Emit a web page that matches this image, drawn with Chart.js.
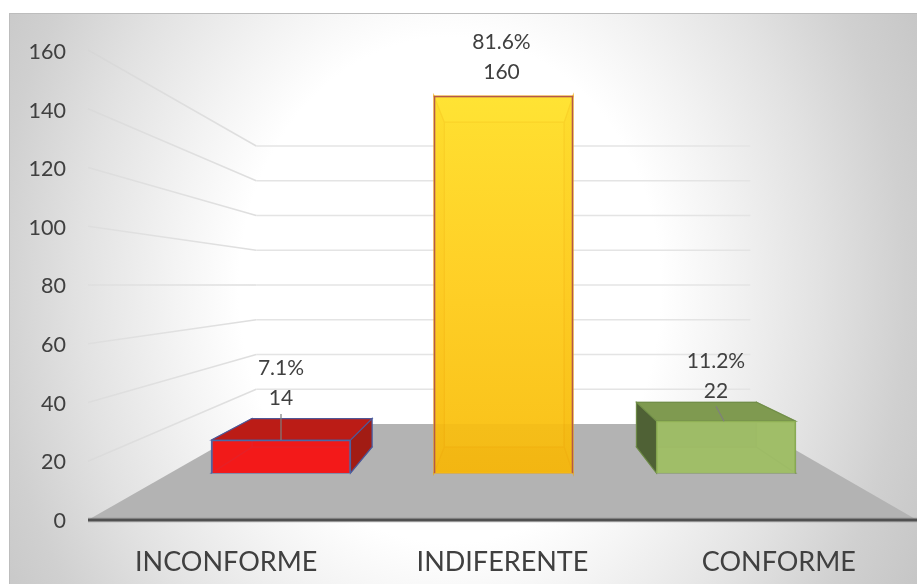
<!DOCTYPE html>
<html><head><meta charset="utf-8">
<script src="https://cdn.jsdelivr.net/npm/chart.js@4"></script>
<style>html,body{margin:0;padding:0;background:#fff}canvas{display:block}</style>
</head><body><canvas id="c" width="917" height="584"></canvas>
<script>
const categories = ['INCONFORME', 'INDIFERENTE', 'CONFORME'];
const counts = [14, 160, 22];
const percents = ['7.1%', '81.6%', '11.2%'];
const tickValues = [0, 20, 40, 60, 80, 100, 120, 140, 160];

const FONT = 'Lato, Carlito, sans-serif';
const TEXT = '#404040';
const plotTop = 52, plotBottom = 521, plotLeft = 88, plotRight = 917;
const barW = 139, rearW = 120;
const VMAX = 160;

// Perspective planes, expressed as hidden scales: pixel of value 0 and value 160.
function yRange(p0, pMax) {
  const k = (p0 - pMax) / VMAX;
  return { min: -(plotBottom - p0) / k, max: VMAX + (pMax - plotTop) / k };
}
function xRange(p0, p2) {
  const k = (p2 - p0) / 2;
  return { min: -(p0 - plotLeft) / k, max: 2 + (plotRight - p2) / k };
}
const hidden = (r, pos) => ({ type: 'linear', display: false, offset: false, position: pos, min: r.min, max: r.max, grid: { display: false } });

const faces = [
  { bottom:'#d81c18', back:'#bb1c16', left:'#c31f17', right:'#a21c14', top:'#bb1c16', edge:'rgba(72,92,160,.85)' },
  { bottom:'#f9c21e', back:'#fdd42e', left:'#f9c822', right:'#f9c822', top:'#ffe03a', edge:'#eca50e', shade:'rgba(205,135,0,.10)' },
  { bottom:'#8aa858', back:'#7f9a50', left:'#4f6135', right:'#8fae5a', top:'#7f9a50', edge:'rgba(110,140,70,.8)' }
];
const frontEdge = ['#4a6aa8', '#b4584a', '#8fb055'];
const labelDx = [0, -2, -10];
const labelDy = [-42, -24, -30];
const leaders = [[0, -26, 0, 0], null, [-10, -15, -2, 0]];

function quad(ctx, pts, fill, stroke) {
  ctx.beginPath();
  pts.forEach((p, i) => i ? ctx.lineTo(p[0], p[1]) : ctx.moveTo(p[0], p[1]));
  ctx.closePath();
  ctx.fillStyle = fill; ctx.fill();
  if (stroke) { ctx.strokeStyle = stroke; ctx.lineWidth = 1.2; ctx.stroke(); }
}

const scene = {
  id: 'scene',
  beforeDraw(chart) {
    const { ctx, scales } = chart;
    const x0 = 9, y0 = 13, w = 917 - x0, h = 584 - y0;
    ctx.save();
    ctx.beginPath(); ctx.rect(x0, y0, w, h); ctx.clip();
    ctx.translate(450, 290); ctx.scale(1, 1.2);
    const g = ctx.createRadialGradient(0, 0, 0, 0, 0, 570);
    g.addColorStop(0, '#ffffff');
    g.addColorStop(0.37, '#ffffff');
    g.addColorStop(0.48, '#f4f4f4');
    g.addColorStop(0.65, '#e2e2e2');
    g.addColorStop(0.80, '#d0d0d0');
    g.addColorStop(1, '#c0c0c0');
    ctx.fillStyle = g; ctx.fillRect(-600, -400, 1200, 800);
    ctx.restore();
    ctx.fillStyle = '#bdbdbd';
    ctx.fillRect(x0, y0, w, 1); ctx.fillRect(x0, y0, 1, h);

    const wallL = scales.xRear.getPixelForValue(-0.29), wallR = scales.xRear.getPixelForValue(2.28);
    // floor
    const yb = scales.yWall.getPixelForValue(0), yf = scales.ySide.getPixelForValue(0);
    quad(ctx, [[plotLeft, yf], [wallL, yb], [wallR, yb], [plotRight, yf]], '#b3b3b3');
    // grid on the side wall and back wall
    ctx.lineWidth = 1.5;
    tickValues.slice(1).forEach(v => {
      const yL = scales.ySide.getPixelForValue(v), yW = scales.yWall.getPixelForValue(v);
      const gr = ctx.createLinearGradient(plotLeft, 0, wallL, 0);
      gr.addColorStop(0, 'rgba(205,205,205,.25)');
      gr.addColorStop(1, 'rgba(222,222,222,1)');
      ctx.strokeStyle = gr;
      ctx.beginPath(); ctx.moveTo(plotLeft, yL); ctx.lineTo(wallL, yW); ctx.stroke();
      ctx.strokeStyle = '#e4e4e4';
      ctx.beginPath(); ctx.moveTo(wallL, yW); ctx.lineTo(wallR, yW); ctx.stroke();
    });
    // category axis line
    ctx.strokeStyle = 'rgba(120,120,120,.6)'; ctx.lineWidth = 4.5;
    ctx.beginPath(); ctx.moveTo(plotLeft, yf); ctx.lineTo(plotRight, yf); ctx.stroke();
    ctx.strokeStyle = '#505050'; ctx.lineWidth = 2.5;
    ctx.beginPath(); ctx.moveTo(plotLeft, yf); ctx.lineTo(plotRight, yf); ctx.stroke();
  },
  beforeDatasetsDraw(chart) {
    const { ctx, scales } = chart;
    counts.forEach((v, i) => {
      const f = faces[i];
      const fc = scales.xBar.getPixelForValue(i), rc = scales.xRear.getPixelForValue(i);
      const fl = fc - barW / 2, fr = fc + barW / 2, rl = rc - rearW / 2, rr = rc + rearW / 2;
      const ft = scales.yBar.getPixelForValue(v), fb = scales.yBar.getPixelForValue(0);
      const rt = scales.yRear.getPixelForValue(v), rb = scales.yRear.getPixelForValue(0);
      quad(ctx, [[rl, rb], [rr, rb], [fr, fb], [fl, fb]], f.bottom, f.edge);
      quad(ctx, [[rl, rt], [rr, rt], [rr, rb], [rl, rb]], f.back, f.edge);
      quad(ctx, [[fl, ft], [rl, rt], [rl, rb], [fl, fb]], f.left, f.edge);
      quad(ctx, [[fr, ft], [rr, rt], [rr, rb], [fr, fb]], f.right, f.edge);
      quad(ctx, [[fl, ft], [rl, rt], [rr, rt], [fr, ft]], f.top, f.edge);
    });
  },
  afterDatasetsDraw(chart) {
    const { ctx, scales } = chart;
    ctx.textAlign = 'center'; ctx.textBaseline = 'middle';
    ctx.font = '21px ' + FONT;
    counts.forEach((v, i) => {
      const fc = scales.xBar.getPixelForValue(i);
      const ft = scales.yBar.getPixelForValue(v);
      if (faces[i].shade) {
        const yb = scales.yWall.getPixelForValue(0), fb = scales.yBar.getPixelForValue(0);
        ctx.fillStyle = faces[i].shade;
        ctx.fillRect(fc - barW / 2 + 1, yb, barW - 2, fb - yb - 1);
      }
      if (leaders[i]) {
        const l = leaders[i];
        ctx.strokeStyle = '#7f7f7f'; ctx.lineWidth = 1.2;
        ctx.beginPath(); ctx.moveTo(fc + l[0], ft + l[1]); ctx.lineTo(fc + l[2], ft + l[3]); ctx.stroke();
      }
      ctx.fillStyle = TEXT;
      ctx.fillText(String(v), fc + labelDx[i], ft + labelDy[i]);
      ctx.fillText(percents[i], fc + labelDx[i], ft + labelDy[i] - 29.5);
    });
  }
};

function yellowGradient(c) {
  const a = c.chart.chartArea;
  if (!a) return '#fdd22c';
  const s = c.chart.scales.yBar;
  const g = c.chart.ctx.createLinearGradient(0, s.getPixelForValue(VMAX), 0, s.getPixelForValue(0));
  g.addColorStop(0, 'rgba(255,228,50,.76)');
  g.addColorStop(0.5, 'rgba(255,206,36,.76)');
  g.addColorStop(1, 'rgba(247,186,18,.76)');
  return g;
}
const frontFill = ['rgba(246,26,26,.9)', yellowGradient, 'rgba(163,192,106,.88)'];

new Chart(document.getElementById('c'), {
  type: 'bar',
  data: {
    labels: categories,
    datasets: [{
      data: counts.map((v, i) => ({ x: i, y: v })),
      xAxisID: 'xBar', yAxisID: 'yBar',
      barThickness: barW,
      backgroundColor: c => { const f = frontFill[c.dataIndex]; return typeof f === 'function' ? f(c) : f; },
      borderColor: frontEdge,
      borderWidth: 1.5
    }]
  },
  plugins: [scene],
  options: {
    responsive: false,
    animation: false,
    events: [],
    layout: { padding: { left: 0, right: 0, top: plotTop, bottom: 0 } },
    plugins: { legend: { display: false }, tooltip: { enabled: false }, title: { display: false } },
    scales: {
      x: {
        type: 'category', position: 'bottom',
        grid: { display: false, drawTicks: false },
        border: { display: false },
        ticks: { color: TEXT, font: { family: FONT, size: 27 }, padding: 25, maxRotation: 0, autoSkip: false },
        afterFit(s) { s.height = 584 - plotBottom; }
      },
      y: {
        type: 'linear', position: 'left', min: 0, max: VMAX,
        grid: { display: false, drawTicks: false },
        border: { display: false },
        afterBuildTicks(s) { s.ticks = tickValues.map(v => ({ value: v })); },
        ticks: { color: TEXT, font: { family: FONT, size: 21.5 }, padding: 22, autoSkip: false },
        afterFit(s) { s.width = plotLeft; }
      },
      yBar: hidden(yRange(473, 96), 'left'),
      yRear: hidden(yRange(447, 122), 'left'),
      yWall: hidden(yRange(424, 146), 'left'),
      ySide: hidden(yRange(520, 50), 'left'),
      xBar: hidden(xRange(281, 726), 'bottom'),
      xRear: hidden(xRange(312, 696.5), 'bottom')
    }
  }
});
</script></body></html>
